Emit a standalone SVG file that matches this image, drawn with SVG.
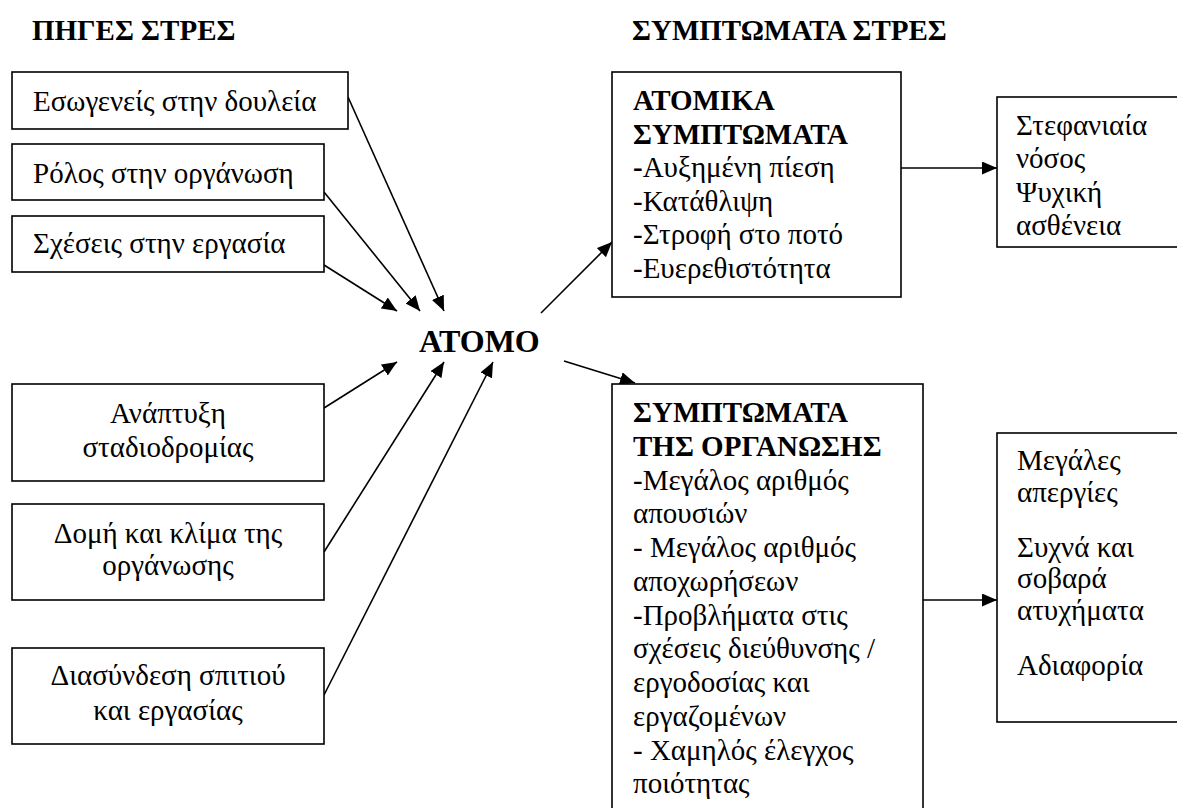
<svg xmlns="http://www.w3.org/2000/svg" width="1177" height="808" viewBox="0 0 1177 808">
<defs>
<marker id="ah" markerUnits="userSpaceOnUse" markerWidth="16" markerHeight="13" refX="15" refY="6.5" orient="auto">
<path d="M0,0 L15,6.5 L0,13 z" fill="#000"/>
</marker>
</defs>
<rect width="1177" height="808" fill="#fff"/>
<text x="32" y="40" style="font-family:'Times New Roman','Liberation Serif',serif;font-size:29px;font-weight:bold">ΠΗΓΕΣ ΣΤΡΕΣ</text>
<text x="632" y="40" style="font-family:'Times New Roman','Liberation Serif',serif;font-size:29px;font-weight:bold">ΣΥΜΠΤΩΜΑΤΑ ΣΤΡΕΣ</text>

<g id="connectors" stroke="#000" stroke-width="1.6" fill="none" marker-end="url(#ah)">
<line x1="348" y1="97" x2="444" y2="311"/>
<line x1="324" y1="192" x2="420" y2="311"/>
<line x1="324" y1="265" x2="397" y2="311"/>
<line x1="324" y1="408" x2="397" y2="362"/>
<line x1="324" y1="552" x2="444" y2="362"/>
<line x1="324" y1="695" x2="493" y2="362"/>
<line x1="541" y1="313" x2="612" y2="242"/>
<line x1="564" y1="361" x2="635" y2="383"/>
<line x1="901" y1="168" x2="997" y2="168"/>
<line x1="923" y1="600" x2="997" y2="600"/>
</g>

<g id="n1"><rect x="12" y="72" width="336" height="57" fill="#fff" stroke="#000" stroke-width="1.6"/><text x="33" y="111" style="font-family:'Times New Roman','Liberation Serif',serif;font-size:29px">Εσωγενείς στην δουλεία</text></g>
<g id="n2"><rect x="12" y="144" width="312" height="56" fill="#fff" stroke="#000" stroke-width="1.6"/><text x="33" y="183" style="font-family:'Times New Roman','Liberation Serif',serif;font-size:29px">Ρόλος στην οργάνωση</text></g>
<g id="n3"><rect x="12" y="216" width="312" height="56" fill="#fff" stroke="#000" stroke-width="1.6"/><text x="33" y="253" style="font-family:'Times New Roman','Liberation Serif',serif;font-size:29px">Σχέσεις στην εργασία</text></g>
<g id="n4"><rect x="12" y="384" width="312" height="97" fill="#fff" stroke="#000" stroke-width="1.6"/><text x="168" y="423" text-anchor="middle" style="font-family:'Times New Roman','Liberation Serif',serif;font-size:29px">Ανάπτυξη</text><text x="168" y="457" text-anchor="middle" style="font-family:'Times New Roman','Liberation Serif',serif;font-size:29px">σταδιοδρομίας</text></g>
<g id="n5"><rect x="12" y="504" width="312" height="96" fill="#fff" stroke="#000" stroke-width="1.6"/><text x="168" y="543" text-anchor="middle" style="font-family:'Times New Roman','Liberation Serif',serif;font-size:29px">Δομή και κλίμα της</text><text x="168" y="575" text-anchor="middle" style="font-family:'Times New Roman','Liberation Serif',serif;font-size:29px">οργάνωσης</text></g>
<g id="n6"><rect x="12" y="648" width="312" height="96" fill="#fff" stroke="#000" stroke-width="1.6"/><text x="168" y="685" text-anchor="middle" style="font-family:'Times New Roman','Liberation Serif',serif;font-size:29px">Διασύνδεση σπιτιού</text><text x="168" y="720" text-anchor="middle" style="font-family:'Times New Roman','Liberation Serif',serif;font-size:29px">και εργασίας</text></g>

<g id="atomo"><text x="419" y="352" style="font-family:'Times New Roman','Liberation Serif',serif;font-size:32px;font-weight:bold">ΑΤΟΜΟ</text></g>

<g id="atomika">
<rect x="612" y="72" width="289" height="225" fill="#fff" stroke="#000" stroke-width="1.6"/>
<text style="font-family:'Times New Roman','Liberation Serif',serif;font-size:29px">
<tspan font-weight="bold" x="633" y="110">ΑΤΟΜΙΚΑ</tspan>
<tspan font-weight="bold" x="633" y="144">ΣΥΜΠΤΩΜΑΤΑ</tspan>
<tspan x="633" y="177"><tspan font-weight="bold">-</tspan>Αυξημένη πίεση</tspan>
<tspan x="633" y="211">-Κατάθλιψη</tspan>
<tspan x="633" y="244">-Στροφή στο ποτό</tspan>
<tspan x="633" y="278">-Ευερεθιστότητα</tspan>
</text>
</g>

<g id="stefaniaia">
<rect x="997" y="97" width="200" height="150" fill="#fff" stroke="#000" stroke-width="1.6"/>
<text style="font-family:'Times New Roman','Liberation Serif',serif;font-size:29px">
<tspan x="1016" y="135">Στεφανιαία</tspan>
<tspan x="1016" y="168">νόσος</tspan>
<tspan x="1016" y="202">Ψυχική</tspan>
<tspan x="1016" y="235">ασθένεια</tspan>
</text>
</g>

<g id="organosi">
<rect x="612" y="384" width="311" height="440" fill="#fff" stroke="#000" stroke-width="1.6"/>
<text style="font-family:'Times New Roman','Liberation Serif',serif;font-size:29px">
<tspan font-weight="bold" x="633" y="422">ΣΥΜΠΤΩΜΑΤΑ</tspan>
<tspan font-weight="bold" x="633" y="456">ΤΗΣ ΟΡΓΑΝΩΣΗΣ</tspan>
<tspan x="633" y="490">-Μεγάλος αριθμός</tspan>
<tspan x="633" y="523">απουσιών</tspan>
<tspan x="633" y="557">- Μεγάλος αριθμός</tspan>
<tspan x="633" y="591">αποχωρήσεων</tspan>
<tspan x="633" y="625">-Προβλήματα στις</tspan>
<tspan x="633" y="658">σχέσεις διεύθυνσης /</tspan>
<tspan x="633" y="692">εργοδοσίας και</tspan>
<tspan x="633" y="726">εργαζομένων</tspan>
<tspan x="633" y="760">- Χαμηλός έλεγχος</tspan>
<tspan x="633" y="793">ποιότητας</tspan>
</text>
</g>

<g id="megales">
<rect x="997" y="433" width="200" height="289" fill="#fff" stroke="#000" stroke-width="1.6"/>
<text style="font-family:'Times New Roman','Liberation Serif',serif;font-size:29px">
<tspan x="1017" y="470">Μεγάλες</tspan>
<tspan x="1017" y="502">απεργίες</tspan>
<tspan x="1017" y="557">Συχνά και</tspan>
<tspan x="1017" y="588">σοβαρά</tspan>
<tspan x="1017" y="620">ατυχήματα</tspan>
<tspan x="1017" y="675">Αδιαφορία</tspan>
</text>
</g>
</svg>
